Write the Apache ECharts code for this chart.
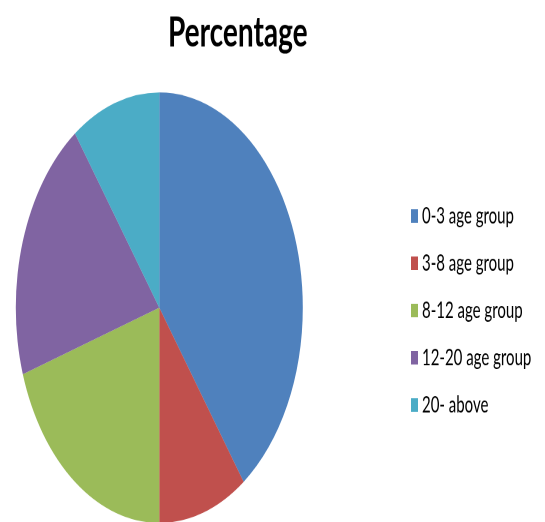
<!DOCTYPE html>
<html>
<head>
<meta charset="utf-8">
<script src="https://cdn.jsdelivr.net/npm/echarts@6/dist/echarts.min.js"></script>
<style>
html,body{margin:0;padding:0;background:#fff;}
#wrap{position:relative;width:545px;height:522px;overflow:visible;}
#chart{position:absolute;left:0;top:0;width:545px;height:348px;transform:scaleY(1.5);transform-origin:0 0;}
</style>
</head>
<body>
<div id="wrap"><div id="chart"></div></div>
<script>
const categories = ['0-3 age group', '3-8 age group', '8-12 age group', '12-20 age group', '20- above'];
const values = [40, 10, 20, 20, 10];
const colors = ['#4F81BD', '#C0504D', '#9BBB59', '#8064A2', '#4BACC6'];
const titleText = 'Percentage';

const chart = echarts.init(document.getElementById('chart'), null, {devicePixelRatio: 2});
chart.setOption({
  animation: false,
  backgroundColor: '#fff',
  color: colors,
  title: {
    text: titleText,
    left: 163,
    top: 3,
    textStyle: {fontFamily: 'Lato', fontWeight: 'bold', fontSize: 28, color: '#000'}
  },
  legend: {
    orient: 'vertical',
    left: 406,
    top: 131,
    itemWidth: 7,
    itemHeight: 9,
    itemGap: 15.5,
    icon: 'rect',
    selectedMode: false,
    textStyle: {fontFamily: 'Lato', fontSize: 15, color: '#000', lineHeight: 16, padding: [0, 0, 0, -1]},
    data: categories
  },
  series: [{
    type: 'pie',
    center: [159.3, 205.1],
    radius: 143.5,
    startAngle: 90,
    clockwise: true,
    label: {show: false},
    labelLine: {show: false},
    emphasis: {disabled: true},
    itemStyle: {borderWidth: 0},
    data: categories.map((c, i) => ({name: c, value: values[i]}))
  }]
});
</script>
</body>
</html>
